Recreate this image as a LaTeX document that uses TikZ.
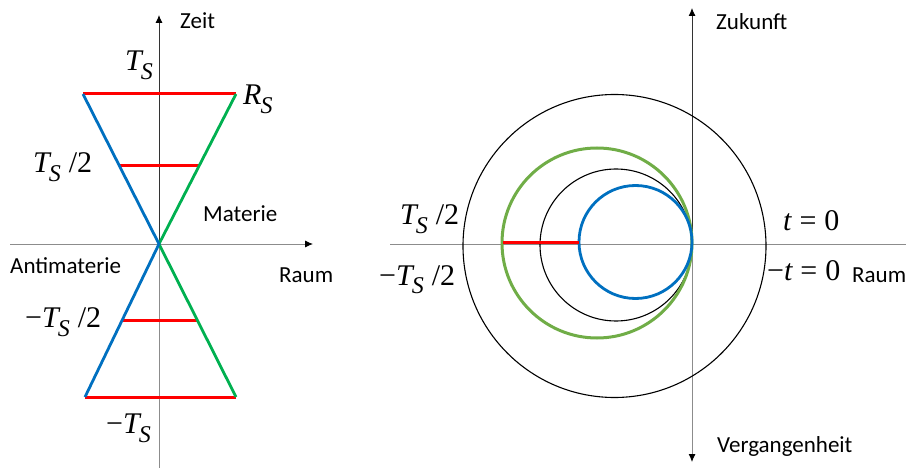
\documentclass[tikz,border=0pt]{standalone}
\usepackage{fontspec}
\setmainfont{Carlito}
\newfontfamily\tnr{Liberation Serif}
\usetikzlibrary{arrows.meta,calc}
\definecolor{cblue}{HTML}{0070C0}
\definecolor{cgreen}{HTML}{00B050}
\definecolor{lgreen}{HTML}{70AD47}
\definecolor{cred}{HTML}{FF0000}
\definecolor{axgray}{HTML}{8C8C8C}
\newcommand\mT{{\itshape T}}
\newcommand\mR{{\itshape R}}
\newcommand\subS{\kern-1pt\raisebox{-9pt}{\fontsize{24}{24}\selectfont\itshape S}}
\newcommand\mhalf{\kern8pt/2}
\newcommand\meq{\kern8pt=\kern8pt}
\begin{document}
\begin{tikzpicture}[x=1pt,y=-1pt,
  axis/.style={line width=0.9pt,draw=axgray},
  axisdark/.style={line width=0.9pt,draw=black!80},
  tip/.style={-{Latex[length=8pt,width=7pt,black]}},
  redline/.style={line width=3pt,draw=cred},
  blueline/.style={line width=2.8pt,draw=cblue},
  greenline/.style={line width=2.8pt,draw=cgreen},
  thincirc/.style={line width=1.1pt,draw=black},
  mathlbl/.style={font=\fontsize{30}{30}\selectfont\tnr,inner sep=0pt,anchor=base west},
  sanslbl/.style={font=\fontsize{23}{23}\selectfont,inner sep=0pt,anchor=base west}]
\useasboundingbox (0,0) rectangle (906,468);
% ---------- left diagram ----------
\coordinate (O1) at (159,244);
\coordinate (ZtopL) at (159,15);
\coordinate (ZbotL) at (159,468);
\coordinate (XlL) at (10,244);
\coordinate (XrL) at (313,244);
\coordinate (A) at (83,94);
\coordinate (B) at (236,94);
\coordinate (G) at (85,397);
\coordinate (H) at (236,397);
\coordinate (C) at ($(A)!0.48!(O1)$);
\coordinate (D) at ($(B)!0.48!(O1)$);
\coordinate (E) at ($(O1)!0.5!(G)$);
\coordinate (F) at ($(O1)!0.5!(H)$);
\draw[axis] (ZbotL) -- (O1);
\draw[axisdark,tip] (O1) -- (ZtopL);
\draw[axis,tip] (XlL) -- (XrL);
\draw[redline] (A) -- (B);
\draw[redline] (C) -- (D);
\draw[redline] (E) -- (F);
\draw[redline] (G) -- (H);
\draw[greenline] (B) -- (O1) -- (H);
\draw[blueline] (A) -- (O1) -- (G);
\node[sanslbl] (zeit) at (180,29) {Zeit};
\node[mathlbl] (ts) at (125,71) {\mT\subS};
\node[mathlbl] (rs) at (243,105) {\mR\subS};
\node[mathlbl] (tshalf) at (33,173) {\mT\subS\mhalf};
\node[sanslbl] (materie) at (203,222) {Materie};
\node[sanslbl] (anti) at (10,273) {Antimaterie};
\node[sanslbl] (raumL) at (279,282) {Raum};
\node[mathlbl] (mtshalf) at (25,327) {−\mT\subS\mhalf};
\node[mathlbl] (mts) at (106,433) {−\mT\subS};
% ---------- right diagram ----------
\coordinate (O2) at (692,244);
\coordinate (ZtopR) at (692,8);
\coordinate (ZbotR) at (692,462);
\coordinate (XlR) at (390,244);
\coordinate (XrR) at (906,244);
\coordinate (Cbig) at (614.5,246);
\coordinate (Cgreen) at (597,243);
\coordinate (Cin) at (616,245);
\coordinate (Cblue) at (635.5,242);
\coordinate (RL) at (503,243);
\coordinate (RR) at (579,243);
\draw[axis] (XlR) -- (XrR);
\draw[axisdark,tip] (O2) -- (ZtopR);
\draw[axis,tip] (O2) -- (ZbotR);
\draw[thincirc] (Cbig) circle[radius=151.5];
\draw[thincirc] (Cin) circle[radius=76];
\draw[line width=3pt,draw=lgreen] (Cgreen) circle[radius=95];
\draw[blueline] (Cblue) circle[radius=56.5];
\draw[redline] (RL) -- (RR);
\node[sanslbl] (zukunft) at (716,30) {Zukunft};
\node[mathlbl] (tshalfR) at (400,225) {\mT\subS\mhalf};
\node[mathlbl] (mtshalfR) at (379,285) {−\mT\subS\mhalf};
\node[mathlbl] (tnull) at (783,230) {{\itshape t}\meq0};
\node[mathlbl] (mtnull) at (767,280) {−{\itshape t}\meq0};
\node[sanslbl] (raumR) at (852,283) {Raum};
\node[sanslbl] (verg) at (717,452) {Vergangenheit};
\end{tikzpicture}
\end{document}
